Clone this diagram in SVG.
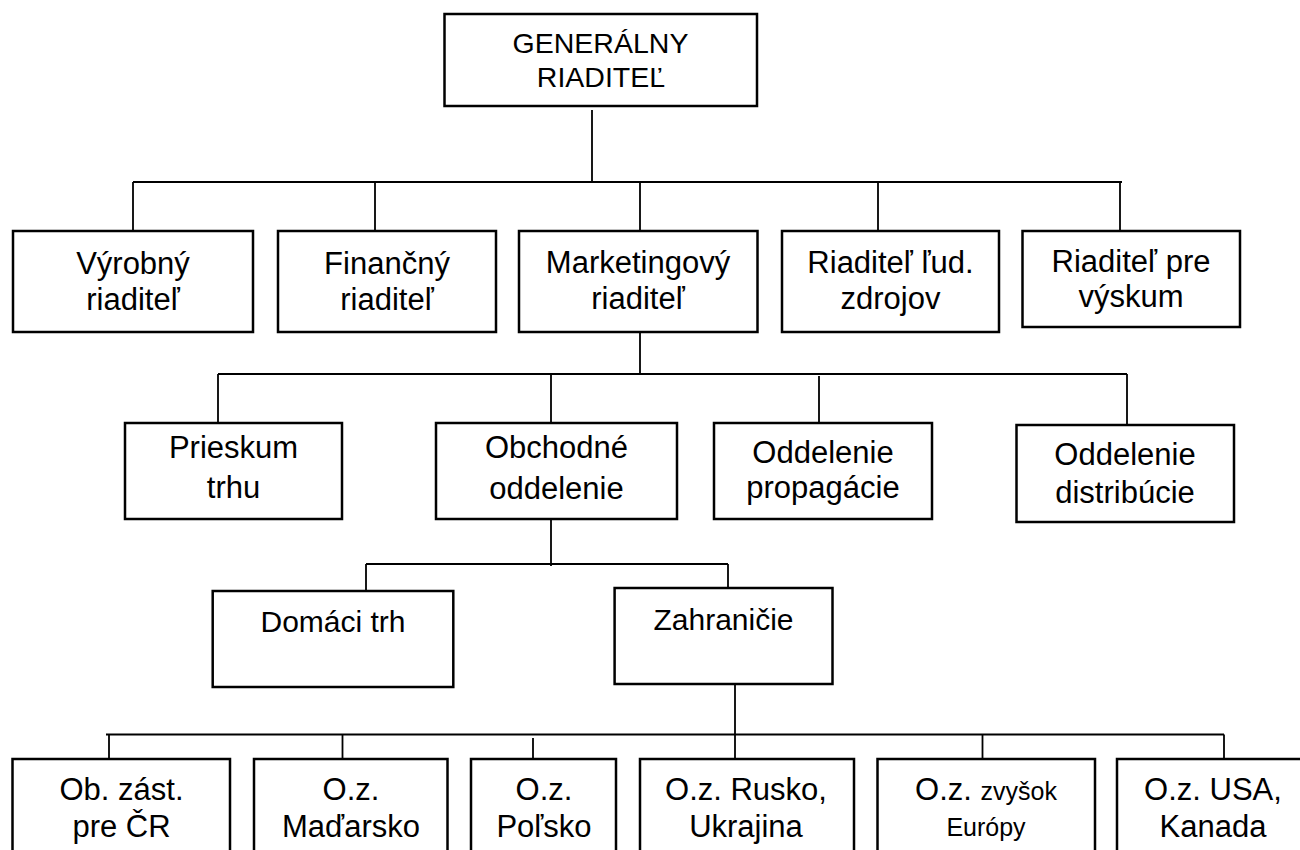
<svg xmlns="http://www.w3.org/2000/svg" width="1300" height="850" viewBox="0 0 1300 850">
<style>
.box{fill:#fff;stroke:#000;stroke-width:2.5}
.ln{fill:none;stroke:#000;stroke-width:1.8}
text{font-family:"Liberation Sans",Arial,sans-serif;font-size:31px;fill:#000;text-anchor:middle}
.top{font-size:28.5px}
.sm{font-size:25px}
</style>
<rect width="1300" height="850" fill="#fff"/>
<g id="connectors">
<path class="ln" d="M592 110V182M133 182H1122M133 182V231M375 182V231M640 182V231M878 182V231M1120 182V231"/>
<path class="ln" d="M640 332V374M218 374H1127M218 374V423M551 374V423M819 376V423M1127 374V425"/>
<path class="ln" d="M551 519V566M366 564H728M366 564V591M728 564V588"/>
<path class="ln" d="M735 684V759M106 734.5H1224M109 734.5V759M342.5 734.5V759M533 738V762M982.5 734.5V759M1224 734.5V759"/>
</g>
<g id="n-gr"><rect class="box" x="444.5" y="14" width="312.5" height="92"/><text class="top" x="600.5" y="53">GENERÁLNY</text><text class="top" x="601" y="87">RIADITEĽ</text></g>
<g id="n-vyr"><rect class="box" x="13" y="231" width="240" height="101"/><text x="133" y="274">Výrobný</text><text x="133" y="310">riaditeľ</text></g>
<g id="n-fin"><rect class="box" x="278" y="231" width="218" height="101"/><text x="387" y="274">Finančný</text><text x="387" y="310">riaditeľ</text></g>
<g id="n-mkt"><rect class="box" x="519" y="231" width="238.5" height="101"/><text x="638" y="273">Marketingový</text><text x="638" y="309">riaditeľ</text></g>
<g id="n-lz"><rect class="box" x="782" y="231" width="217" height="101"/><text x="890.5" y="273">Riaditeľ ľud.</text><text x="890.5" y="309">zdrojov</text></g>
<g id="n-vys"><rect class="box" x="1022.5" y="231" width="217.5" height="96"/><text x="1131" y="272">Riaditeľ pre</text><text x="1131" y="307">výskum</text></g>
<g id="n-pt"><rect class="box" x="125" y="423" width="217" height="96"/><text x="233.5" y="458">Prieskum</text><text x="233.5" y="498">trhu</text></g>
<g id="n-oo"><rect class="box" x="436" y="423" width="241" height="96"/><text x="556.5" y="458">Obchodné</text><text x="556.5" y="499">oddelenie</text></g>
<g id="n-op"><rect class="box" x="714" y="423" width="218" height="96"/><text x="823" y="463">Oddelenie</text><text x="823" y="498">propagácie</text></g>
<g id="n-od"><rect class="box" x="1016.5" y="425" width="217.5" height="97"/><text x="1125" y="465">Oddelenie</text><text x="1125" y="503">distribúcie</text></g>
<g id="n-dt"><rect class="box" x="212.7" y="591" width="240.6" height="96"/><text x="333" y="632" style="font-size:30px">Domáci trh</text></g>
<g id="n-za"><rect class="box" x="614.6" y="588" width="217.9" height="96"/><text x="723.5" y="630" style="font-size:30px">Zahraničie</text></g>
<g id="n-cr"><rect class="box" x="12.5" y="759" width="217.5" height="110"/><text x="121.5" y="800">Ob. zást.</text><text x="121.5" y="837">pre ČR</text></g>
<g id="n-hu"><rect class="box" x="254" y="759" width="193.5" height="110"/><text x="351" y="800">O.z.</text><text x="351" y="837">Maďarsko</text></g>
<g id="n-pl"><rect class="box" x="471" y="759" width="145" height="110"/><text x="544" y="800">O.z.</text><text x="544" y="837">Poľsko</text></g>
<g id="n-ru"><rect class="box" x="640" y="759" width="214" height="110"/><text x="746" y="800">O.z. Rusko,</text><text x="746" y="837">Ukrajina</text></g>
<g id="n-eu"><rect class="box" x="877.5" y="759" width="217.5" height="110"/><text x="986" y="800">O.z. <tspan class="sm">zvyšok</tspan></text><text class="sm" x="986" y="836">Európy</text></g>
<g id="n-us"><rect class="box" x="1117" y="759" width="195" height="110"/><text x="1213" y="800">O.z. USA,</text><text x="1213" y="837">Kanada</text></g>
</svg>
